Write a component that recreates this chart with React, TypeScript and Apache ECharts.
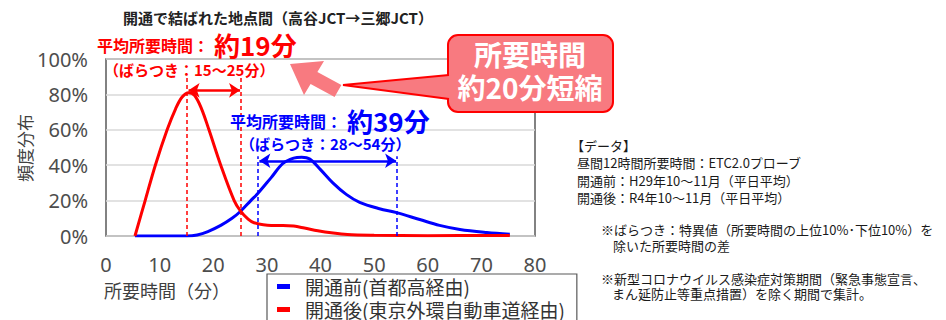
import React, { useEffect, useRef } from 'react';
import * as echarts from 'echarts';

// ---- data (minutes, share %) ----
const beforeMinutes = [5.4, 15.1, 17, 19, 21.4, 23.5, 25.1, 27, 28.3, 30.8, 33, 35, 36.5, 38, 40, 42.3, 44.8, 47.3, 51, 54.2, 58.5, 62.2, 66, 71, 75.3];
const beforeShares = [0, 0, 0.6, 2.5, 6, 10, 14, 20, 24, 33, 41, 44, 44.5, 43.5, 37.5, 30, 23.5, 19, 15.4, 13.2, 9.3, 6, 3.7, 2, 1];

const afterMinutes = [5.4, 7.3, 9.2, 11.4, 13, 14.2, 15.4, 16.5, 17.8, 19.2, 21.4, 23.9, 25.1, 26.5, 27.6, 30.8, 33, 35, 37, 39.5, 42, 45, 50, 60, 75.3];
const afterShares = [0, 20, 40, 60, 72, 78.5, 81, 79.5, 72, 60, 40, 20, 14, 9.5, 7.5, 6, 6, 5.6, 4.5, 3, 1.8, 0.8, 0.4, 0.2, 0.3];

const seriesNames = ['開通前(首都高経由)', '開通後(東京外環自動車道経由)'];

// spread (ばらつき) ranges and mean labels
const afterRange = [15.1, 25.2];
const beforeRange = [28.3, 54.3];
const afterArrowY = 82.3;
const beforeArrowY = 42.5;
const afterDashTop = 90;
const beforeDashTop = 45;

const noteLines = [
  '【データ】',
  '昼間12時間所要時間：ETC2.0プローブ',
  '開通前：H29年10〜11月（平日平均）',
  '開通後：R4年10〜11月（平日平均）',
];
const remarkLines = [
  '※ばらつき：特異値（所要時間の上位10%･下位10%）を',
  '除いた所要時間の差',
  '※新型コロナウイルス感染症対策期間（緊急事態宣言、',
  'まん延防止等重点措置）を除く期間で集計。',
];

const RED = '#ff0000';
const BLUE = '#0000ff';
const PINK = '#f87a80';
const CJK = "'Noto Sans CJK JP', 'Noto Sans', sans-serif";

const zip = (xs: number[], ys: number[]) => xs.map((x, i) => [x, ys[i]]);

function txt(text: string, x: number, y: number, size: number, color: string, weight = 'normal', align = 'left', extra: any = {}) {
  return {
    type: 'text',
    x,
    y,
    z: 100,
    ...extra,
    style: { text, fill: color, fontSize: size, fontWeight: weight, fontFamily: CJK, align, verticalAlign: 'middle' },
  };
}

function rangeMarks(range: number[], top: number, arrowY: number, color: string) {
  const dash = { color, type: [4, 3], width: 1.5 };
  const solid = { color, type: 'solid', width: 2.5 };
  return {
    silent: true,
    symbol: 'none',
    animation: false,
    label: { show: false },
    emphasis: { disabled: true },
    lineStyle: dash,
    data: [
      [{ coord: [range[0], 0], lineStyle: dash }, { coord: [range[0], top], lineStyle: dash }],
      [{ coord: [range[1], 0], lineStyle: dash }, { coord: [range[1], top], lineStyle: dash }],
      [
        { coord: [range[0] + 0.3, arrowY], symbol: 'arrow', symbolSize: 11, lineStyle: solid },
        { coord: [range[1] - 0.2, arrowY], symbol: 'arrow', symbolSize: 11, lineStyle: solid },
      ],
    ],
  };
}

export default function App() {
  const ref = useRef<HTMLDivElement>(null);
  useEffect(() => {
    const chart = echarts.init(ref.current!, null, { renderer: 'svg' });
    const graphic: any[] = [
      txt('開通で結ばれた地点間（高谷JCT→三郷JCT）', 123, 17, 15, '#222', 'bold'),
      txt('平均所要時間：', 97, 45, 16, RED, 'bold'),
      txt('約19分', 214, 44, 26, RED, 'bold'),
      txt('（ばらつき：15〜25分）', 104, 69, 15, RED, 'bold'),
      txt('平均所要時間：', 230, 121, 16, BLUE, 'bold'),
      txt('約39分', 347, 120, 26, BLUE, 'bold'),
      txt('（ばらつき：28〜54分）', 240, 143, 15, BLUE, 'bold'),
      {
        type: 'polygon',
        z: 100,
        shape: { points: [[290, 64], [324, 61], [317.4, 71.9], [341.4, 84.9], [334.6, 97.1], [310.6, 84.1], [304, 95]] },
        style: { fill: PINK },
      },
      {
        type: 'rect',
        z: 100,
        shape: { x: 448, y: 35, width: 165, height: 77, r: 10 },
        style: { fill: PINK, stroke: RED, lineWidth: 2 },
      },
      {
        type: 'polygon',
        z: 101,
        shape: { points: [[343, 85], [451, 75], [451, 99]] },
        style: { fill: PINK },
      },
      {
        type: 'polyline',
        z: 102,
        shape: { points: [[449, 75], [343, 85], [449, 99]] },
        style: { stroke: RED, lineWidth: 2, fill: null },
      },
      txt('所要時間', 530, 54, 28, '#fff', 'bold', 'center', { z: 103 }),
      txt('約20分短縮', 530, 87, 28, '#fff', 'bold', 'center', { z: 103 }),
      txt('所要時間（分）', 104, 290, 18, '#404040'),
      txt('頻度分布', 24, 148, 17, '#404040', 'normal', 'center', { rotation: Math.PI / 2 }),
      txt(noteLines[0], 571, 145, 13, '#1a1a1a'),
      txt(noteLines[1], 577, 162, 13, '#1a1a1a'),
      txt(noteLines[2], 577, 180, 13, '#1a1a1a'),
      txt(noteLines[3], 577, 197, 13, '#1a1a1a'),
      txt(remarkLines[0], 601, 229, 13, '#1a1a1a'),
      txt(remarkLines[1], 613, 245, 13, '#1a1a1a'),
      txt(remarkLines[2], 601, 278, 13, '#1a1a1a'),
      txt(remarkLines[3], 612, 293, 13, '#1a1a1a'),
    ];

    chart.setOption({
      animation: false,
      backgroundColor: '#fff',
      grid: {
        left: 106,
        top: 59,
        width: 429,
        height: 177,
        show: true,
        borderColor: '#595959',
        borderWidth: 1.5,
        backgroundColor: 'transparent',
      },
      xAxis: {
        type: 'value',
        min: 0,
        max: 80,
        interval: 10,
        axisLine: { show: false },
        axisTick: { show: false },
        splitLine: { show: false },
        axisLabel: { fontSize: 20, color: '#4d4d4d', margin: 18, fontFamily: "'Noto Sans', sans-serif" },
      },
      yAxis: {
        type: 'value',
        min: 0,
        max: 100,
        interval: 20,
        axisLine: { show: false },
        axisTick: { show: false },
        splitLine: { lineStyle: { color: '#d9d9d9', width: 1.5 } },
        axisLabel: { formatter: '{value}%', fontSize: 20, color: '#4d4d4d', margin: 18, fontFamily: "'Noto Sans', sans-serif" },
      },
      legend: {
        left: 267,
        top: 274,
        height: 80,
        orient: 'vertical',
        icon: 'rect',
        itemWidth: 13,
        itemHeight: 5,
        itemGap: 2,
        padding: [2, 12, 10, 10],
        borderColor: '#595959',
        borderWidth: 1.2,
        selectedMode: false,
        textStyle: { fontSize: 19, lineHeight: 21, color: '#333', fontFamily: CJK, padding: [0, 0, 0, 10] },
        data: seriesNames,
      },
      series: [
        {
          name: seriesNames[0],
          type: 'line',
          data: zip(beforeMinutes, beforeShares),
          smooth: 0.35,
          symbol: 'none',
          lineStyle: { color: BLUE, width: 3 },
          itemStyle: { color: BLUE },
          markLine: rangeMarks(beforeRange, beforeDashTop, beforeArrowY, BLUE),
        },
        {
          name: seriesNames[1],
          type: 'line',
          data: zip(afterMinutes, afterShares),
          smooth: 0.35,
          symbol: 'none',
          lineStyle: { color: RED, width: 3 },
          itemStyle: { color: RED },
          markLine: rangeMarks(afterRange, afterDashTop, afterArrowY, RED),
        },
      ],
      graphic,
    });
    return () => chart.dispose();
  }, []);
  return (
    <div
      ref={ref}
      style={{ position: 'fixed', left: 0, top: 0, width: 946, height: 320, background: '#fff' }}
    />
  );
}
